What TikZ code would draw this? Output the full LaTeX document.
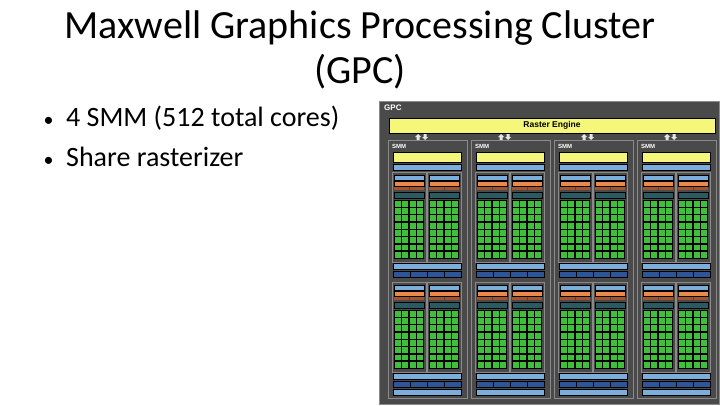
\documentclass[tikz,border=0pt]{standalone}
\usepackage{fontspec}
\setmainfont{Carlito}
\newfontfamily\lab{Liberation Sans}
\definecolor{bgg}{HTML}{4A4A4A}
\definecolor{yel}{HTML}{F4F77A}
\definecolor{lblue}{HTML}{7BAEDB}
\definecolor{dblue}{HTML}{2E5597}
\definecolor{ora}{HTML}{E98A4C}
\definecolor{brn}{HTML}{A3532A}
\definecolor{teal2}{HTML}{2B5A62}
\definecolor{grn}{HTML}{3FBF3A}
\definecolor{frm}{HTML}{8A8A8A}
\tikzset{blk/.style={draw=black,line width=0.4pt},
  lbl/.style={text=white,font=\lab\bfseries\fontsize{6}{7}\selectfont,anchor=west,inner sep=0pt}}
\begin{document}
\begin{tikzpicture}[x=1pt,y=-1pt]
\useasboundingbox (0,0) rectangle (720,405);
\node (t1) at (360,28) {\fontsize{40}{46}\selectfont Maxwell Graphics Processing Cluster};
\node (t2) at (360,72) {\fontsize{40}{46}\selectfont (GPC)};
\node[anchor=west,font=\fontsize{28}{32}\selectfont] (b1) at (40,118) {{\fontsize{20}{24}\selectfont •} \ 4 SMM (512 total cores)};
\node[anchor=west,font=\fontsize{28}{32}\selectfont] (b2) at (40,157) {{\fontsize{20}{24}\selectfont •} \ Share rasterizer};
\fill[bgg] (379,101) rectangle (719,404);
\draw[frm,line width=1pt] (379,101) rectangle (719,404);
\node[lbl,font=\lab\bfseries\fontsize{8}{9}\selectfont] (gpc) at (384,108) {GPC};
\fill[yel] (389,118) rectangle (715,133);
\draw[blk] (389,118) rectangle (715,133);
\node[font=\lab\bfseries\fontsize{8.5}{9}\selectfont,inner sep=0pt] (re) at (552,125.5) {Raster Engine};
\foreach \i in {0,1,2,3}{
 \pgfmathsetmacro{\xo}{388+83*\i}
 \begin{scope}[shift={(\xo,0)}]
  \fill[white!80!gray] (30,134) -- (33,137) -- (31.5,137) -- (31.5,140) -- (28.5,140) -- (28.5,137) -- (27,137) -- cycle;
  \fill[white!80!gray] (37,140) -- (40,137) -- (38.5,137) -- (38.5,134) -- (35.5,134) -- (35.5,137) -- (34,137) -- cycle;
  \draw[frm] (0,140) rectangle (79,398);
  \node[lbl] at (4,146) {SMM};
  \fill[yel] (5,152) rectangle (73,162); \draw[blk] (5,152) rectangle (73,162);
  \fill[lblue] (5,164) rectangle (73,170); \draw[blk] (5,164) rectangle (73,170);
  \foreach \yo in {172,282}{
   \foreach \sx in {4,39}{
    \begin{scope}[shift={(\sx,\yo)}]
     \draw[frm] (0,0) rectangle (34,90);
     \fill[lblue] (2,3) rectangle (32,8); \draw[blk] (2,3) rectangle (32,8);
     \fill[ora] (2,9) rectangle (32,14); \draw[blk] (2,9) rectangle (32,14);
     \fill[brn] (2,15) rectangle (16.5,18); \fill[brn] (17.5,15) rectangle (32,18);
     \fill[teal2] (2,20) rectangle (32,26); \draw[blk] (2,20) rectangle (32,26);
     \fill[black] (2,28) rectangle (32,87);
     \foreach \c in {0,1,2,3}{\foreach \r in {0,...,7}{
       \fill[grn] ({2.8+7.4*\c},{28.8+7.3*\r}) rectangle ({8.8+7.4*\c},{34.6+7.3*\r});}}
    \end{scope}}
   \fill[lblue] (5,\yo+91) rectangle (73,\yo+97); \draw[blk] (5,\yo+91) rectangle (73,\yo+97);
   \fill[dblue] (5,\yo+99) rectangle (73,\yo+105); \draw[blk] (5,\yo+99) rectangle (73,\yo+105);
   \foreach \d in {22,39,56}{\draw[black] (\d,\yo+99) -- (\d,\yo+105);}
  }
  \fill[lblue] (5,389) rectangle (73,395); \draw[blk] (5,389) rectangle (73,395);
 \end{scope}}
\end{tikzpicture}
\end{document}
